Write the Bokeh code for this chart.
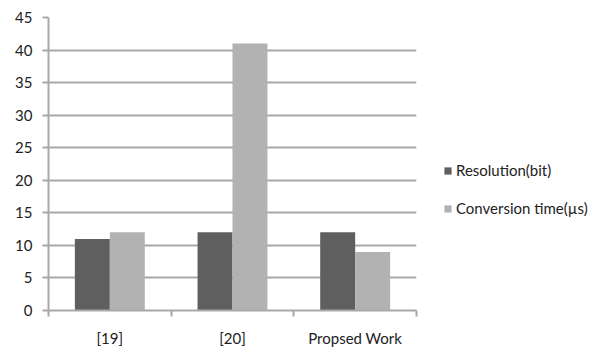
from bokeh.plotting import figure
from bokeh.layouts import row
from bokeh.models import FixedTicker, Legend, LegendItem, Range1d
from bokeh.embed import file_html
from bokeh.resources import INLINE

categories = ["[19]", "[20]", "Propsed Work"]
resolution = [11, 12, 12]
conversion = [12, 41, 9]
y_ticks = [0, 5, 10, 15, 20, 25, 30, 35, 40, 45]
series_names = ["Resolution(bit)", "Conversion time(µs)"]

FONT = "Lato"
DARK = "#5f5f5f"
LIGHT = "#b2b2b2"
GRID = "#a8a8a8"
TXT = "#222222"

n = len(categories)
centers = [i + 0.5 for i in range(n)]
bw = 0.285

p = figure(width=418, height=349, output_backend="svg", toolbar_location=None,
           x_range=Range1d(0, n), y_range=Range1d(0, 45),
           min_border_left=48, min_border_right=2, min_border_top=17, min_border_bottom=0)
p.outline_line_color = None
p.background_fill_color = "white"
p.border_fill_color = "white"

p.vbar(x=[c - bw / 2 for c in centers], top=resolution, width=bw, color=DARK, line_color=None)
p.vbar(x=[c + bw / 2 for c in centers], top=conversion, width=bw, color=LIGHT, line_color=None)

# x axis: labels at centers, ticks at boundaries (minor)
p.xaxis.ticker = FixedTicker(ticks=centers, minor_ticks=list(range(n + 1)))
p.xaxis.major_label_overrides = {c: lab for c, lab in zip(centers, categories)}
p.xaxis.major_tick_out = 0
p.xaxis.major_tick_in = 0
p.xaxis.minor_tick_out = 6
p.xaxis.minor_tick_in = 0
p.xaxis.minor_tick_line_color = GRID
p.xaxis.minor_tick_line_width = 2
p.xaxis.axis_line_color = GRID
p.xaxis.axis_line_width = 2
p.xaxis.major_label_standoff = 12
p.xaxis.major_label_text_font = FONT
p.xaxis.major_label_text_font_size = "15px"
p.xaxis.major_label_text_color = TXT

p.yaxis.ticker = FixedTicker(ticks=y_ticks)
p.yaxis.minor_tick_line_color = None
p.yaxis.major_tick_out = 6
p.yaxis.major_tick_in = 0
p.yaxis.major_tick_line_color = GRID
p.yaxis.major_tick_line_width = 2
p.yaxis.axis_line_color = GRID
p.yaxis.axis_line_width = 2
p.yaxis.major_label_standoff = 10
p.yaxis.major_label_text_font = FONT
p.yaxis.major_label_text_font_size = "15px"
p.yaxis.major_label_text_color = TXT

p.xgrid.grid_line_color = None
p.ygrid.grid_line_color = GRID
p.ygrid.grid_line_width = 2
p.ygrid.ticker = FixedTicker(ticks=y_ticks)

# legend panel: zero-width proxy bars, used only for the legend swatches
q = figure(width=184, height=349, output_backend="svg", toolbar_location=None,
           x_range=Range1d(0, n), y_range=Range1d(0, 45), min_border=0)
q.axis.visible = False
q.grid.grid_line_color = None
q.outline_line_color = None
q.border_fill_color = "white"
q.background_fill_color = "white"
l1 = q.vbar(x=centers, top=resolution, width=0, color=DARK, line_color=None)
l2 = q.vbar(x=centers, top=conversion, width=0, color=LIGHT, line_color=None)

legend = Legend(items=[LegendItem(label=series_names[0], renderers=[l1]),
                       LegendItem(label=series_names[1], renderers=[l2])],
                location=(25, 92), orientation="vertical",
                glyph_width=9, glyph_height=9, label_standoff=4,
                label_height=20, spacing=18, padding=0, margin=0,
                border_line_color=None, background_fill_alpha=0,
                label_text_font=FONT, label_text_font_size="15px",
                label_text_color=TXT)
q.add_layout(legend, "center")

layout = row(p, q, spacing=0)
open("out.html", "w").write(file_html(layout, INLINE))
